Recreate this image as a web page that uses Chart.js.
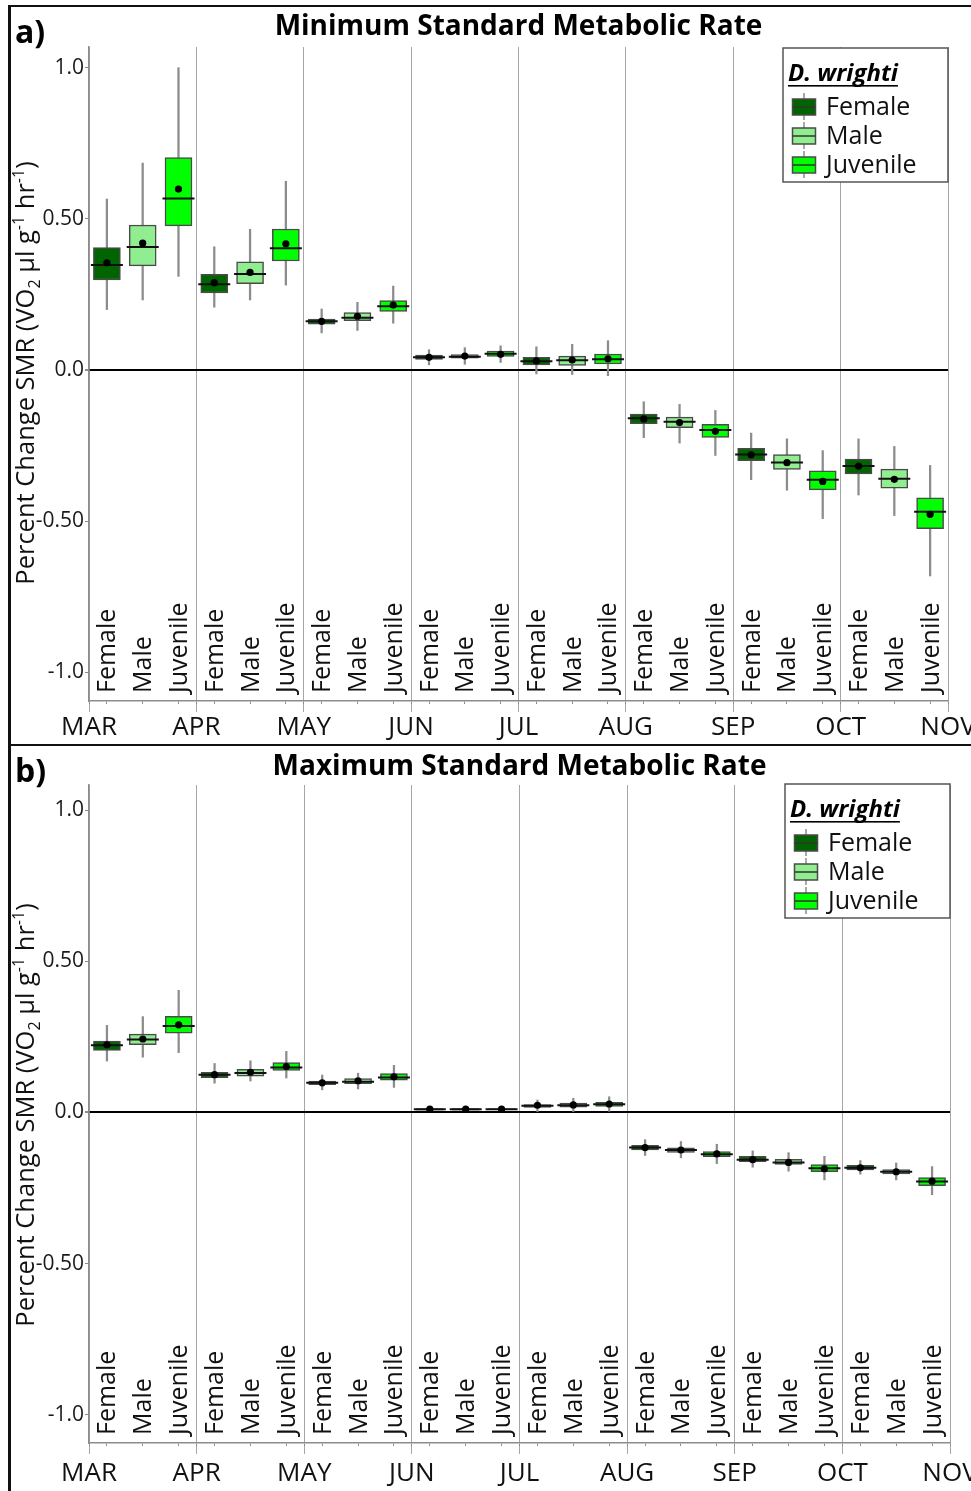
<!DOCTYPE html>
<html>
<head>
<meta charset="utf-8">
<script src="https://cdn.jsdelivr.net/npm/chart.js@4.4.0/dist/chart.umd.min.js"></script>
<style>
  html, body { margin: 0; padding: 0; background: #fff; }
  body { position: relative; width: 971px; height: 1491px; overflow: hidden; }
  canvas { position: absolute; left: 0; }
  .rule { position: absolute; background: #111; }
</style>
</head>
<body>
<canvas id="smrMin" width="971" height="744" style="top:0px"></canvas>
<canvas id="smrMax" width="971" height="746" style="top:745px"></canvas>
<div class="rule" style="left:8px;top:5px;width:963px;height:2px"></div>
<div class="rule" style="left:8px;top:5px;width:2.5px;height:1486px"></div>
<div class="rule" style="left:8px;top:744px;width:963px;height:2px"></div>
<script>
// ---- data ----
const months = ['MAR', 'APR', 'MAY', 'JUN', 'JUL', 'AUG', 'SEP', 'OCT', 'NOV'];
const groups = ['Female', 'Male', 'Juvenile'];
const groupColors = ['#006400', '#90EE90', '#00FF00'];
const speciesName = 'D. wrighti';
const yTickValues = [1, 0.5, 0, -0.5, -1];
const yTickLabels = ['1.0', '0.50', '0.0', '-0.50', '-1.0'];

// Minimum SMR: one entry per box (Female, Male, Juvenile for each monthly interval)
const minLower  = [0.200, 0.232, 0.310, 0.208, 0.232, 0.281, 0.123, 0.131, 0.155, 0.017, 0.019, 0.025,
                   -0.013, -0.015, -0.019, -0.224, -0.242, -0.283, -0.363, -0.398, -0.492, -0.414, -0.482, -0.682];
const minQ1     = [0.298, 0.345, 0.477, 0.255, 0.286, 0.361, 0.152, 0.163, 0.194, 0.035, 0.039, 0.045,
                   0.017, 0.015, 0.020, -0.178, -0.191, -0.223, -0.300, -0.329, -0.397, -0.344, -0.391, -0.525];
const minMedian = [0.348, 0.407, 0.568, 0.284, 0.318, 0.403, 0.161, 0.173, 0.211, 0.042, 0.044, 0.054,
                   0.029, 0.032, 0.036, -0.160, -0.171, -0.199, -0.280, -0.306, -0.363, -0.318, -0.360, -0.469];
const minQ3     = [0.405, 0.480, 0.703, 0.317, 0.358, 0.467, 0.169, 0.190, 0.230, 0.049, 0.051, 0.063,
                   0.042, 0.046, 0.053, -0.146, -0.156, -0.180, -0.259, -0.280, -0.334, -0.295, -0.328, -0.423];
const minUpper  = [0.566, 0.685, 1.001, 0.408, 0.466, 0.625, 0.202, 0.224, 0.278, 0.067, 0.074, 0.080,
                   0.077, 0.085, 0.097, -0.105, -0.114, -0.134, -0.209, -0.228, -0.267, -0.228, -0.253, -0.316];
const minMean   = [0.355, 0.420, 0.599, 0.289, 0.323, 0.418, 0.161, 0.178, 0.215, 0.042, 0.046, 0.052,
                   0.030, 0.033, 0.037, -0.162, -0.174, -0.203, -0.281, -0.307, -0.369, -0.318, -0.362, -0.478];

// Maximum SMR
const maxLower  = [0.170, 0.183, 0.198, 0.097, 0.104, 0.114, 0.075, 0.078, 0.083, 0.005, 0.005, 0.006,
                   0.003, 0.003, 0.004, -0.142, -0.150, -0.169, -0.181, -0.194, -0.223, -0.204, -0.223, -0.272];
const maxQ1     = [0.205, 0.224, 0.262, 0.115, 0.120, 0.139, 0.092, 0.095, 0.107, 0.008, 0.008, 0.009,
                   0.017, 0.018, 0.020, -0.124, -0.132, -0.146, -0.163, -0.172, -0.196, -0.190, -0.203, -0.242];
const maxMedian = [0.222, 0.241, 0.286, 0.125, 0.131, 0.149, 0.098, 0.102, 0.116, 0.011, 0.011, 0.011,
                   0.022, 0.024, 0.027, -0.116, -0.124, -0.138, -0.156, -0.165, -0.184, -0.183, -0.196, -0.228];
const maxQ3     = [0.236, 0.259, 0.318, 0.133, 0.143, 0.165, 0.104, 0.112, 0.129, 0.013, 0.013, 0.013,
                   0.026, 0.031, 0.034, -0.109, -0.117, -0.129, -0.145, -0.155, -0.172, -0.175, -0.189, -0.215];
const maxUpper  = [0.288, 0.317, 0.404, 0.162, 0.171, 0.202, 0.124, 0.130, 0.156, 0.018, 0.017, 0.018,
                   0.041, 0.047, 0.052, -0.090, -0.096, -0.105, -0.127, -0.133, -0.145, -0.159, -0.167, -0.179];
const maxMean   = [0.224, 0.243, 0.290, 0.125, 0.133, 0.152, 0.098, 0.105, 0.118, 0.011, 0.011, 0.011,
                   0.024, 0.025, 0.028, -0.116, -0.124, -0.137, -0.156, -0.165, -0.186, -0.183, -0.196, -0.227];

// ---- drawing ----
const FAMILY = "'Open Sans', sans-serif";
const boxLabels = months.slice(0, -1).flatMap(() => groups);
const yTitleParts = [
  { t: 'Percent Change SMR (VO' }, { t: '2', sub: true }, { t: ' \u00b5l g' }, { t: '-1', sup: true },
  { t: ' hr' }, { t: '-1', sup: true }, { t: ')' }
];

function drawVerticalRichText(ctx, parts, x, cy, size) {
  const small = Math.round(size * 0.62);
  const fontFor = p => `${(p.sub || p.sup) ? small : size}px ${FAMILY}`;
  let total = 0;
  parts.forEach(p => { ctx.font = fontFor(p); total += ctx.measureText(p.t).width; });
  ctx.save();
  ctx.translate(x, cy);
  ctx.rotate(-Math.PI / 2);
  ctx.textAlign = 'left';
  ctx.textBaseline = 'alphabetic';
  ctx.fillStyle = '#111';
  let pos = -total / 2;
  parts.forEach(p => {
    ctx.font = fontFor(p);
    const dy = p.sub ? size * 0.22 : (p.sup ? -size * 0.38 : 0);
    ctx.fillText(p.t, pos, dy);
    pos += ctx.measureText(p.t).width;
  });
  ctx.restore();
}

const panelDecor = {
  id: 'panelDecor',
  afterDraw(chart, args, o) {
    const { ctx, chartArea, scales } = chart;
    ctx.save();
    // panel letter
    ctx.font = `bold 32px ${FAMILY}`;
    ctx.fillStyle = '#000';
    ctx.textAlign = 'left';
    ctx.textBaseline = 'alphabetic';
    ctx.fillText(o.tag, o.tagX, o.tagY);

    // value axis title
    drawVerticalRichText(ctx, yTitleParts, o.yTitleX, o.yTitleY, 25.5);

    // group names under each box
    ctx.font = `25px ${FAMILY}`;
    ctx.fillStyle = '#111';
    boxLabels.forEach((lab, i) => {
      const x = scales.x.getPixelForValue(i);
      ctx.save();
      ctx.translate(x + 8.5, chartArea.bottom - 8);
      ctx.rotate(-Math.PI / 2);
      ctx.fillText(lab, 0, 0);
      ctx.restore();
    });

    // legend
    const w = 165, h = 134;
    const lx = chartArea.right - w, ly = chartArea.top + o.legendDy;
    ctx.fillStyle = '#fff';
    ctx.fillRect(lx, ly, w, h);
    ctx.strokeStyle = '#555';
    ctx.lineWidth = 1.5;
    ctx.strokeRect(lx, ly, w, h);
    ctx.font = `italic bold 24px ${FAMILY}`;
    ctx.fillStyle = '#000';
    ctx.fillText(speciesName, lx + 5, ly + 33);
    const tw = ctx.measureText(speciesName).width;
    ctx.fillRect(lx + 5, ly + 37, tw, 1.6);
    ctx.font = `25px ${FAMILY}`;
    groups.forEach((g, k) => {
      const by = ly + 67 + k * 29;
      const cx = lx + 21;
      ctx.strokeStyle = '#8c8c8c';
      ctx.lineWidth = 1.5;
      ctx.beginPath(); ctx.moveTo(cx, by - 22); ctx.lineTo(cx, by + 5); ctx.stroke();
      ctx.fillStyle = groupColors[k];
      ctx.fillRect(cx - 11.5, by - 16, 23, 16);
      ctx.strokeStyle = '#4a4a4a';
      ctx.strokeRect(cx - 11.5, by - 16, 23, 16);
      ctx.strokeStyle = '#333';
      ctx.beginPath(); ctx.moveTo(cx - 11.5, by - 8); ctx.lineTo(cx + 11.5, by - 8); ctx.stroke();
      ctx.fillStyle = '#111';
      ctx.fillText(g, lx + 43, by);
    });
    ctx.restore();
  }
};

function boxPlotPanel(canvasId, p) {
  const fills = p.median.map((_, i) => groupColors[i % groups.length]);
  const smallTicks = boxLabels.map((_, i) => ({ value: i }))
    .concat(months.map((_, k) => ({ value: k * 3 - 0.5 })));
  return new Chart(document.getElementById(canvasId), {
    type: 'bar',
    data: {
      labels: boxLabels,
      datasets: [
        { type: 'line', label: 'Mean', data: p.mean, showLine: false, xAxisID: 'x', yAxisID: 'y',
          pointStyle: 'circle', pointRadius: 3.6, pointBackgroundColor: '#000', pointBorderWidth: 0, order: 1 },
        { type: 'line', label: 'Median', data: p.median, showLine: false, xAxisID: 'x', yAxisID: 'y',
          pointStyle: 'line', pointRadius: 16, pointBorderColor: '#111', pointBorderWidth: 2, order: 2 },
        { label: 'Interquartile range', data: p.q1.map((v, i) => [v, p.q3[i]]), xAxisID: 'x', yAxisID: 'y',
          backgroundColor: fills, borderColor: '#4a4a4a', borderWidth: 1.5, borderSkipped: false,
          barThickness: 27, grouped: false, order: 3 },
        { label: 'Range', data: p.lower.map((v, i) => [v, p.upper[i]]), xAxisID: 'x', yAxisID: 'y',
          backgroundColor: '#8c8c8c', borderWidth: 0, barThickness: 1.6, grouped: false, order: 4 }
      ]
    },
    options: {
      responsive: false,
      animation: false,
      events: [],
      layout: { padding: { left: 0, right: p.padRight, top: 0, bottom: 0 } },
      scales: {
        x: {
          type: 'category', position: 'bottom', offset: true, weight: 0,
          grid: { offset: false, drawOnChartArea: false, tickLength: 3, tickColor: '#8c8c8c', tickWidth: 1 },
          border: { color: '#8c8c8c', width: 1.5 },
          ticks: { display: false, callback: () => '' },
          afterBuildTicks: s => { s.ticks = smallTicks.slice(); }
        },
        month: {
          type: 'linear', position: 'bottom', weight: 1, min: -0.5, max: 23.5, offset: false,
          afterBuildTicks: s => { s.ticks = months.map((_, k) => ({ value: k * 3 - 0.5 })); },
          afterFit: s => { s.height = p.monthAxisHeight; s.paddingLeft = 0; s.paddingRight = 0; },
          grid: { offset: false, color: '#a6a6a6', lineWidth: 1, tickLength: 8, tickColor: '#a6a6a6', drawOnChartArea: true },
          border: { display: false },
          ticks: {
            callback: v => months[Math.round((v + 0.5) / 3)],
            font: { family: FAMILY, size: 26 }, color: '#111', padding: p.monthPad,
            maxRotation: 0, minRotation: 0, autoSkip: false
          }
        },
        y: {
          type: 'linear', position: 'left', min: p.yMin, max: p.yMax,
          afterBuildTicks: s => { s.ticks = yTickValues.map(v => ({ value: v })); },
          afterFit: s => { s.width = 89; s.paddingTop = 0; s.paddingBottom = 0; },
          grid: {
            color: c => (c.tick && c.tick.value === 0) ? '#000' : 'rgba(0,0,0,0)',
            lineWidth: c => (c.tick && c.tick.value === 0) ? 2 : 1,
            tickColor: '#8c8c8c', tickLength: 4
          },
          border: { color: '#8c8c8c', width: 1.5 },
          ticks: {
            callback: v => yTickLabels[yTickValues.indexOf(v)],
            font: { family: FAMILY, size: 21 }, color: '#1a1a1a', padding: 1
          }
        }
      },
      plugins: {
        legend: { display: false },
        tooltip: { enabled: false },
        title: {
          display: true, text: p.title, fullSize: false, color: '#000',
          font: { family: FAMILY, size: 28, weight: 'bold', lineHeight: 1.2 },
          padding: { top: p.titlePadTop, bottom: p.titlePadBottom }
        },
        panelDecor: {
          tag: p.tag, tagX: 15, tagY: p.tagY,
          yTitleX: 34, yTitleY: p.yTitleY, legendDy: p.legendDy
        }
      }
    },
    plugins: [panelDecor]
  });
}

function render() {
  Chart.defaults.font.family = FAMILY;
  boxPlotPanel('smrMin', {
    title: 'Minimum Standard Metabolic Rate', tag: 'a)',
    lower: minLower, q1: minQ1, median: minMedian, q3: minQ3, upper: minUpper, mean: minMean,
    yMin: -1.096, yMax: 1.0695, titlePadTop: 10, titlePadBottom: 3.4,
    monthAxisHeight: 40, monthPad: 0, padRight: 23, tagY: 43, yTitleY: 373, legendDy: 1
  });
  boxPlotPanel('smrMax', {
    title: 'Maximum Standard Metabolic Rate', tag: 'b)',
    lower: maxLower, q1: maxQ1, median: maxMedian, q3: maxQ3, upper: maxUpper, mean: maxMean,
    yMin: -1.093, yMax: 1.083, titlePadTop: 5.7, titlePadBottom: 0.7,
    monthAxisHeight: 45, monthPad: 4, padRight: 21, tagY: 37, yTitleY: 370, legendDy: -1
  });
}

const fontLoads = ['25px "Open Sans"', 'bold 28px "Open Sans"', 'italic bold 24px "Open Sans"']
  .map(f => document.fonts.load(f).catch(() => null));
Promise.all(fontLoads).then(render, render);
</script>
</body>
</html>
